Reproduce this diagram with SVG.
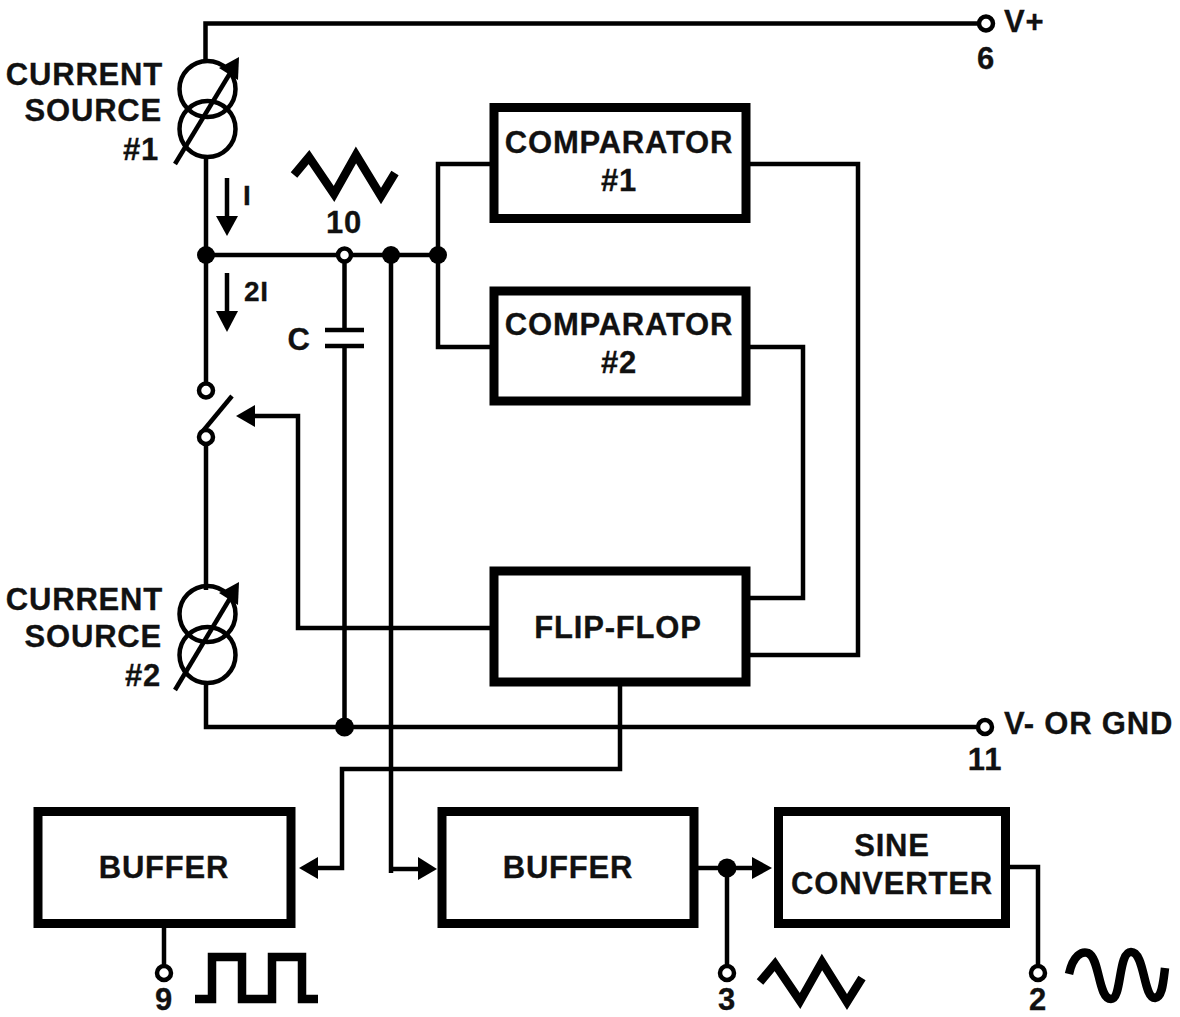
<svg xmlns="http://www.w3.org/2000/svg" width="1180" height="1017" viewBox="0 0 1180 1017">
<defs>
<style>
text{font-family:"Liberation Sans",Arial,sans-serif;font-weight:bold;font-size:31px;letter-spacing:.8px;fill:#111;stroke:#111;stroke-width:.3}
.m{text-anchor:middle}.e{text-anchor:end}
.small{font-size:28px}
.w{fill:none;stroke:#000;stroke-width:4.5}
.sym{fill:none;stroke:#000;stroke-width:4.5}
.sig{fill:none;stroke:#000;stroke-width:8.500}
.box{fill:#fff;stroke:#000;stroke-width:9}
.open{fill:#fff;stroke:#000;stroke-width:4.5}
.dot{fill:#000}
</style>
</defs>
<rect width="1180" height="1017" fill="#fff"/>
<g id="connectors">
<path class="w" d="M980 23.500H205.500V60"/>
<path class="w" d="M206 158V384"/>
<path class="w" d="M206 255H438"/>
<path class="w" d="M438 255V164H492M438 255V347H492"/>
<path class="w" d="M344.500 255V328M344.500 347V727"/>
<path class="w" d="M391 255V873"/>
<path class="w" d="M391 869H420"/>
<path class="w" d="M748 164H858V655H748"/>
<path class="w" d="M748 347H803V598H748"/>
<path class="w" d="M206 438V590"/>
<path class="w" d="M206 684V727H980"/>
<path class="w" d="M492 628H298V416H250"/>
<path class="w" d="M620 684V769H342V868H318"/>
<path class="w" d="M696 868H755"/>
<path class="w" d="M727 868V965"/>
<path class="w" d="M1008 867H1038V965"/>
<path class="w" d="M164 926V965"/>
<path class="w" d="M203 431L232 396"/>
<polygon class="dot" points="236,416 255,405 255,427"/>
<polygon class="dot" points="299,868 318,857 318,879"/>
<polygon class="dot" points="437,869 418,857 418,880"/>
<polygon class="dot" points="772,868 752,857 752,879"/>
<path class="w" d="M227 178V225M227 273V320"/>
<polygon class="dot" points="227,236 216,216 238,216"/>
<polygon class="dot" points="227,332 216,311 238,311"/>
<circle class="dot" cx="206" cy="255" r="9"/>
<circle class="dot" cx="391" cy="255" r="9"/>
<circle class="dot" cx="438" cy="255" r="9"/>
<circle class="dot" cx="344.500" cy="727" r="9.500"/>
<circle class="dot" cx="727" cy="868" r="9.500"/>
<circle class="open" cx="344.500" cy="255" r="6.500"/>
</g>
<g id="current-source-1">
<circle class="sym" cx="207.500" cy="89" r="28"/>
<circle class="sym" cx="207.500" cy="129" r="28"/>
<path class="w" d="M175 164L232 70"/>
<polygon class="dot" points="239,57 238,80 219,68"/>
<text class="e" x="163" y="85">CURRENT</text>
<text class="e" x="162" y="121">SOURCE</text>
<text class="e" x="159" y="160">#1</text>
</g>
<g id="current-source-2">
<circle class="sym" cx="207.500" cy="614" r="28"/>
<circle class="sym" cx="207.500" cy="655" r="28"/>
<path class="w" d="M175 690L232 595"/>
<polygon class="dot" points="239,582 238,605 219,593"/>
<text class="e" x="163" y="610">CURRENT</text>
<text class="e" x="162" y="647">SOURCE</text>
<text class="e" x="161" y="686">#2</text>
</g>
<g id="switch">
<circle class="open" cx="206" cy="390.500" r="7"/>
<circle class="open" cx="206" cy="437" r="7"/>
</g>
<g id="capacitor">
<path class="w" d="M325 330H364M325 346H364"/>
<text class="m" x="299" y="350">C</text>
</g>
<g id="labels">
<text class="small" x="243" y="205">I</text>
<text class="small" x="244" y="301">2I</text>
<text class="m" x="344" y="233">10</text>
<path class="sig" d="M294 175L309 157L334 194L356 155L381 196L395 173"/>
</g>
<g id="comparator-1">
<rect class="box" x="494" y="107.500" width="252" height="111"/>
<text class="m" x="619" y="153">COMPARATOR</text>
<text class="m" x="619" y="191">#1</text>
</g>
<g id="comparator-2">
<rect class="box" x="494" y="291" width="252" height="110"/>
<text class="m" x="619" y="335">COMPARATOR</text>
<text class="m" x="619" y="373">#2</text>
</g>
<g id="flip-flop">
<rect class="box" x="494" y="571" width="252" height="111"/>
<text class="m" x="618" y="638">FLIP-FLOP</text>
</g>
<g id="buffer-1">
<rect class="box" x="38" y="811.500" width="253" height="112"/>
<text class="m" x="164" y="878">BUFFER</text>
</g>
<g id="buffer-2">
<rect class="box" x="442" y="811.500" width="252" height="112"/>
<text class="m" x="568" y="878">BUFFER</text>
</g>
<g id="sine-converter">
<rect class="box" x="778.500" y="811.500" width="227" height="112"/>
<text class="m" x="892" y="856">SINE</text>
<text class="m" x="892" y="894">CONVERTER</text>
</g>
<g id="pin-6">
<circle class="open" cx="986" cy="23.500" r="7"/>
<text x="1004" y="32">V+</text>
<text class="m" x="986" y="69">6</text>
</g>
<g id="pin-11">
<circle class="open" cx="985" cy="727" r="7"/>
<text x="1004" y="734">V- OR GND</text>
<text class="m" x="985" y="770">11</text>
</g>
<g id="pin-9">
<circle class="open" cx="164" cy="973" r="7"/>
<text class="m" x="164" y="1010">9</text>
<path class="sig" d="M195 999H212V957H242V999H272V957H302V999H318"/>
</g>
<g id="pin-3">
<circle class="open" cx="727" cy="973" r="7"/>
<text class="m" x="727" y="1010">3</text>
<path class="sig" d="M760 982L775 964L800 1001L822 962L847 1002L862 978"/>
</g>
<g id="pin-2">
<circle class="open" cx="1038" cy="973" r="7"/>
<text class="m" x="1038" y="1010">2</text>
<path class="sig" d="M1069 974C1073 955 1082 951 1088 953C1100 958 1098 999 1111 999C1122 999 1118 952 1131 952C1145 952 1143 998 1155 998C1162 997 1163 985 1165 968"/>
</g>
</svg>
